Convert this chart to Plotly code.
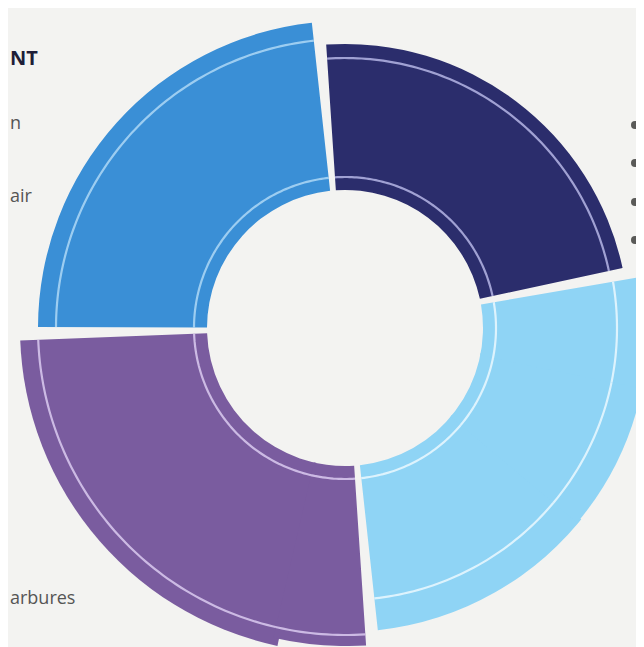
import math
import numpy as np
import plotly.graph_objects as go

# ---- data ----
segments = ["Segment A", "Segment B", "Segment C", "Segment D"]
seg_start = [95, 11, -85, 181]       # degrees, counterclockwise from east
seg_end = [181, 95, 11, 275]
outer_value = [307, 284, 304, 326]   # outer radius of each segment
inner_value = 138                    # common inner radius
outer_ring = [289, 270, 272, 307]    # thin ring near the outer edge
inner_ring = 151                     # thin ring near the inner edge
colors = ["#3a8fd6", "#2b2d6c", "#8fd4f5", "#7a5c9f"]
line_colors = ["rgba(190,225,250,0.75)", "rgba(200,200,245,0.75)",
               "rgba(240,250,255,0.8)", "rgba(225,210,245,0.8)"]
side_labels = ["NT", "n", "air", "arbures"]

# drawing pieces: (segment index, visible sector)
pieces = [(0, (93, 183)), (1, (9, 97)),
          (2, (-87, -39)), (2, (-40, -10.5)), (2, (-11.5, 13)),
          (3, (179, 258)), (3, (257, 277))]

gap = 2.4
W, H = 636, 639          # page adds an 8px body margin
CX, CY = 337, 320        # centre of the ring in figure pixels


def sector_bbox(s0, s1):
    arc = s1 - s0
    a0 = s0 % 360
    a1 = a0 + arc
    c = lambda a: math.cos(math.radians(a))
    s = lambda a: math.sin(math.radians(a))
    ax0, ay0, ax1, ay1 = c(a0), s(a0), c(a1), s(a1)
    if (a0 <= 90 <= a1) or (a0 > 90 and a1 >= 450):
        y1 = 1
    elif ay0 <= 0 and ay1 <= 0:
        y1 = 0
    else:
        y1 = max(ay0, ay1)
    if (a0 <= 180 <= a1) or (a0 > 180 and a1 >= 540):
        x0 = -1
    elif ax0 >= 0 and ax1 >= 0:
        x0 = 0
    else:
        x0 = min(ax0, ax1)
    if (a0 <= 270 <= a1) or (a0 > 270 and a1 >= 630):
        y0 = -1
    elif ay0 >= 0 and ay1 >= 0:
        y0 = 0
    else:
        y0 = min(ay0, ay1)
    if a1 >= 360:
        x1 = 1
    elif ax0 <= 0 and ax1 <= 0:
        x1 = 0
    else:
        x1 = max(ax0, ax1)
    return x0, y0, x1, y1


fig = go.Figure()
layout_polars = {}

for k, (si, sector) in enumerate(pieces):
    name = "polar" if k == 0 else f"polar{k + 1}"
    x0, y0, x1, y1 = sector_bbox(*sector)
    lims = []
    if x0 < 0:
        lims.append(CX / -x0)
    if x1 > 0:
        lims.append((W - CX) / x1)
    if y1 > 0:
        lims.append(CY / y1)
    if y0 < 0:
        lims.append((H - CY) / -y0)
    R = math.floor(min(lims) - 0.5)
    dx = [max(0, (CX + x0 * R) / W), min(1, (CX + x1 * R) / W)]
    dy = [max(0, 1 - (CY - y0 * R) / H), min(1, 1 - (CY - y1 * R) / H)]
    layout_polars[name] = dict(
        domain=dict(x=dx, y=dy),
        sector=list(sector),
        bgcolor="rgba(0,0,0,0)",
        radialaxis=dict(range=[0, R], visible=False),
        angularaxis=dict(visible=False, direction="counterclockwise", rotation=0),
    )

    s, e = seg_start[si], seg_end[si]
    fig.add_trace(go.Barpolar(
        r=[outer_value[si] - inner_value], base=[inner_value],
        theta=[(s + e) / 2], width=[(e - s) - gap],
        marker=dict(color=colors[si], line=dict(width=0)),
        subplot=name, hoverinfo="skip", showlegend=False,
    ))
    th = np.linspace(s + gap / 2, e - gap / 2, 90)
    for rr in (outer_ring[si], inner_ring):
        fig.add_trace(go.Scatterpolar(
            r=[rr] * len(th), theta=th, mode="lines",
            line=dict(color=line_colors[si], width=2.2),
            subplot=name, hoverinfo="skip", showlegend=False,
        ))

fig.update_layout(
    width=W, height=H,
    margin=dict(l=0, r=0, t=0, b=0),
    paper_bgcolor="#f3f3f1",
    plot_bgcolor="#f3f3f1",
    font=dict(family="Open Sans, sans-serif"),
    **layout_polars,
)

# partial legend text on the left
label_pos = [(49, 20, "#1e1e38", True), (114, 18, "#555555", False),
             (187, 18, "#555555", False), (589, 18, "#555555", False)]
for txt, (yc, sz, col, bold) in zip(side_labels, label_pos):
    fig.add_annotation(
        x=0, y=1 - yc / H, xref="paper", yref="paper",
        xanchor="left", yanchor="middle", showarrow=False,
        text=f"<b>{txt}</b>" if bold else txt,
        font=dict(size=sz, color=col, family="Open Sans, sans-serif"),
    )

# bullet dots on the right edge
dots = [(627, 117), (627, 155), (627, 194), (627, 232),
        (636, 512), (636, 549), (636, 585)]
for px, py in dots:
    fig.add_shape(type="circle", xref="paper", yref="paper",
                  x0=(px - 4) / W, x1=(px + 4) / W,
                  y0=1 - (py + 4) / H, y1=1 - (py - 4) / H,
                  fillcolor="#5a5a58", line=dict(width=0))

fig.write_html("out.html")
